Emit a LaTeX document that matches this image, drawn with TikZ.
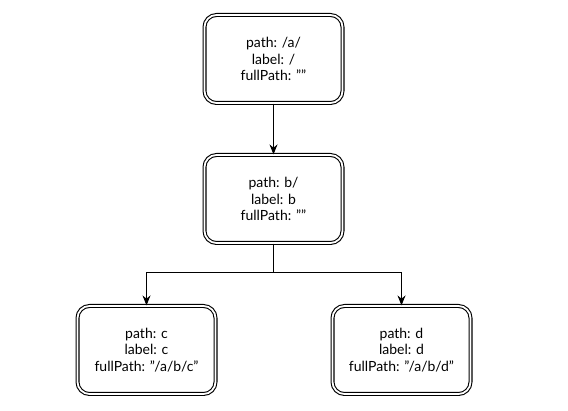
\documentclass[tikz,border=0pt]{standalone}
\usepackage{fontspec}
\setmainfont{Lato}
\usetikzlibrary{arrows.meta}
\begin{document}
\begin{tikzpicture}[x=1pt,y=-1pt,
  treebox/.style={draw=black, line width=1.1pt, double=white, double distance=1.8pt,
    rounded corners=12pt, minimum width=138pt, minimum height=88pt,
    align=center, font=\fontsize{14}{16.5}\selectfont, inner sep=0pt},
  conn/.style={draw=black, line width=1pt, -{Stealth[length=10pt,width=8pt]}},
  plain/.style={draw=black, line width=1pt}]
\useasboundingbox[fill=white] (0,0) rectangle (568,411);
\node[treebox] (a) at (273.5,59) {path: /a/\\label: /\\fullPath: ""};
\node[treebox] (b) at (273.5,199) {path: b/\\label: b\\fullPath: ""};
\node[treebox] (c) at (146.5,350) {path: c\\label: c\\fullPath: "/a/b/c"};
\node[treebox] (d) at (401.5,350) {path: d\\label: d\\fullPath: "/a/b/d"};
\coordinate (split) at (273.5,272.5);
\draw[conn] (a.south) -- (b.north);
\draw[plain] (b.south) -- (split);
\draw[conn] (split) -| (c.north);
\draw[conn] (split) -| (d.north);
\end{tikzpicture}
\end{document}
